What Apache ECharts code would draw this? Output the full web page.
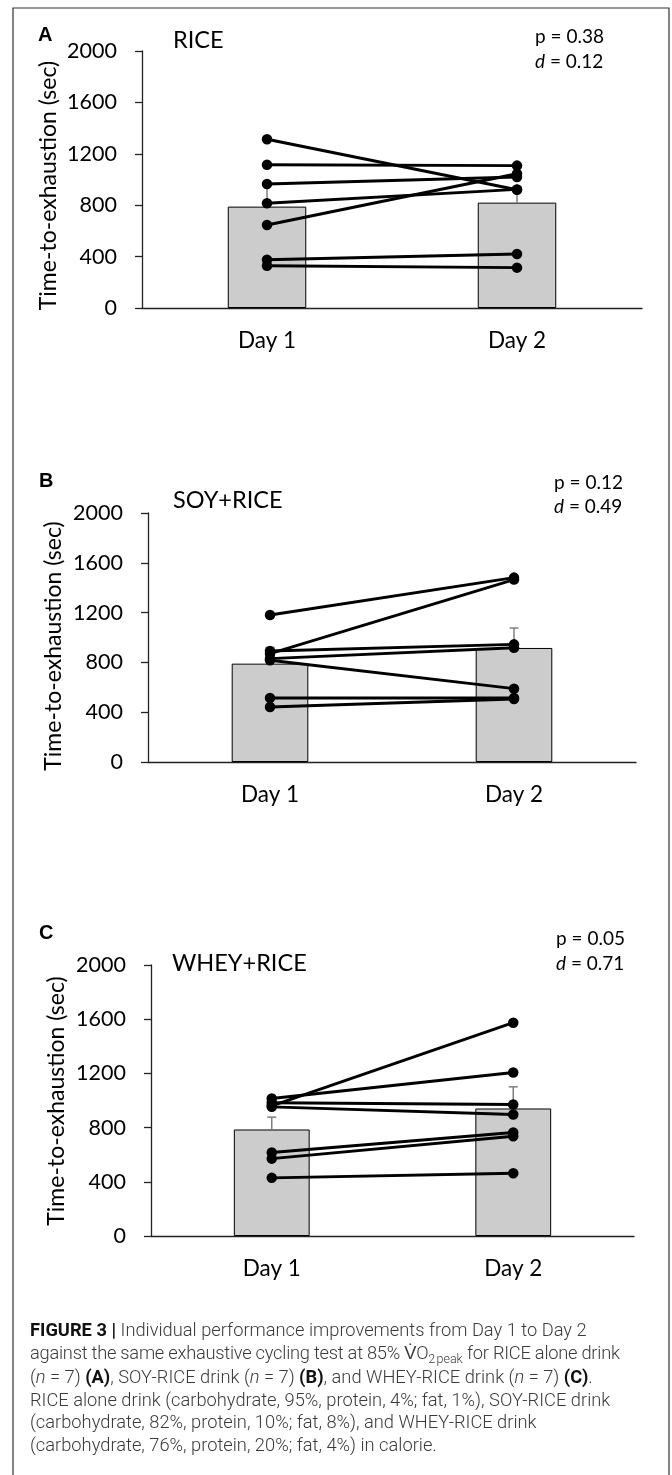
<!DOCTYPE html>
<html>
<head>
<meta charset="utf-8">
<script src="https://cdn.jsdelivr.net/npm/echarts@6/dist/echarts.min.js"></script>
<style>
  html, body { margin: 0; padding: 0; background: #fff; }
  #chart { position: absolute; left: 0; top: 0; width: 672px; height: 1475px; }
  #caption {
    position: absolute; left: 30px; top: 1319px;
    font-family: Roboto, "Liberation Sans", sans-serif; font-size: 18.3px; line-height: 22.5px;
    font-weight: 300; color: #3a3a3a; white-space: nowrap;
  }
  #caption b { color: #111; font-weight: 700; }
  #caption .l2 { letter-spacing: -0.25px; }
  #caption .sub { font-size: 12.5px; position: relative; top: 4px; letter-spacing: 0; }
</style>
</head>
<body>
<div id="chart"></div>
<div id="caption">
<b>FIGURE 3 |</b> Individual performance improvements from Day 1 to Day 2<br>
<span class="l2">against the same exhaustive cycling test at 85% V&#775;O<span class="sub">2&#8202;peak</span> for RICE alone drink</span><br>
(<i>n</i> = 7) <b>(A)</b>, SOY-RICE drink (<i>n</i> = 7) <b>(B)</b>, and WHEY-RICE drink (<i>n</i> = 7) <b>(C)</b>.<br>
RICE alone drink (carbohydrate, 95%, protein, 4%; fat, 1%), SOY-RICE drink<br>
(carbohydrate, 82%, protein, 10%; fat, 8%), and WHEY-RICE drink<br>
(carbohydrate, 76%, protein, 20%; fat, 4%) in calorie.
</div>
<script>
// ---------- data ----------
const categories = ['Day 1', 'Day 2'];
const yAxisName = 'Time-to-exhaustion (sec)';
const panelLetters = ['A', 'B', 'C'];
const panelTitles = ['RICE', 'SOY+RICE', 'WHEY+RICE'];
const pValues = ['0.38', '0.12', '0.05'];
const dValues = ['0.12', '0.49', '0.71'];

const riceDay1 = [1313, 1115, 965, 815, 646, 376, 329];
const riceDay2 = [920, 1108, 1020, 923, 1045, 420, 314];
const riceMean = [789, 820];
const riceErr = [165, 125];

const soyDay1 = [1181, 870, 892, 830, 817, 514, 442];
const soyDay2 = [1481, 1465, 945, 918, 589, 514, 506];
const soyMean = [790, 916];
const soyErr = [130, 160];

const wheyDay1 = [1015, 961, 983, 953, 616, 571, 429];
const wheyDay2 = [1207, 1574, 970, 897, 764, 736, 463];
const wheyMean = [786, 941];
const wheyErr = [91, 160];

// ---------- layout / style ----------
const FONT = 'Lato, "Open Sans", sans-serif';
const panels = [
  { d1: riceDay1, d2: riceDay2, mean: riceMean, err: riceErr },
  { d1: soyDay1, d2: soyDay2, mean: soyMean, err: soyErr },
  { d1: wheyDay1, d2: wheyDay2, mean: wheyMean, err: wheyErr }
];
const grids = [
  { left: 142, top: 51, width: 500, height: 257 },
  { left: 148, top: 513, width: 488, height: 249 },
  { left: 151, top: 965, width: 483, height: 271 }
];
const textPos = [
  { letter: [38, 35], title: [173, 40.5], p: [535, 36.5], d: [535, 61.5], yname: [49, 185.5] },
  { letter: [39, 481.5], title: [173, 500.5], p: [554, 482.7], d: [554, 506.7], yname: [54, 646] },
  { letter: [39, 933], title: [172, 963], p: [556, 939], d: [556, 963.7], yname: [57, 1101] }
];
const axisColor = '#222';

const xAxes = [], yAxes = [], series = [], graphics = [];

panels.forEach((pn, i) => {
  xAxes.push({
    type: 'category', gridIndex: i, data: categories,
    axisLine: { lineStyle: { color: axisColor, width: 1.3 } },
    axisTick: { show: false },
    axisLabel: { fontFamily: FONT, fontSize: 22.5, color: '#000', margin: 21 }
  });
  yAxes.push({
    type: 'value', gridIndex: i, min: 0, max: 2000, interval: 400,
    axisLine: { show: true, lineStyle: { color: axisColor, width: 1.3 } },
    axisTick: { show: true, length: 7, lineStyle: { color: axisColor, width: 1.3 } },
    splitLine: { show: false },
    axisLabel: { fontFamily: FONT, fontSize: 21.5, color: '#000', margin: 25, formatter: v => String(v) }
  });
  series.push({
    type: 'bar', xAxisIndex: i, yAxisIndex: i, data: pn.mean, barWidth: '31.4%',
    itemStyle: { color: '#cccccc', borderColor: '#000', borderWidth: 1 }, z: 2, silent: true
  });
  series.push({
    type: 'custom', xAxisIndex: i, yAxisIndex: i, z: 3, silent: true,
    encode: { x: 0, y: [1, 2] },
    data: pn.mean.map((m, j) => [j, m, m + pn.err[j]]),
    renderItem: (params, api) => {
      const b = api.coord([api.value(0), api.value(1)]);
      const t = api.coord([api.value(0), api.value(2)]);
      const st = { stroke: '#7f7f7f', lineWidth: 1.5 };
      return { type: 'group', children: [
        { type: 'line', shape: { x1: b[0], y1: b[1], x2: t[0], y2: t[1] }, style: st },
        { type: 'line', shape: { x1: t[0] - 4.5, y1: t[1], x2: t[0] + 4.5, y2: t[1] }, style: st }
      ] };
    }
  });
  pn.d1.forEach((v, k) => {
    series.push({
      type: 'line', xAxisIndex: i, yAxisIndex: i, data: [v, pn.d2[k]],
      symbol: 'circle', symbolSize: 10.5, showSymbol: true,
      itemStyle: { color: '#000' }, lineStyle: { color: '#000', width: 2.9 }, z: 5, silent: true
    });
  });

  const tp = textPos[i];
  graphics.push({ type: 'text', x: tp.letter[0], y: tp.letter[1],
    style: { text: panelLetters[i], font: 'bold 20px "Liberation Sans", Arial, sans-serif', fill: '#000', verticalAlign: 'middle' } });
  graphics.push({ type: 'text', x: tp.title[0], y: tp.title[1],
    style: { text: panelTitles[i], fontFamily: FONT, fontSize: 23.5, fill: '#000', verticalAlign: 'middle' } });
  graphics.push({ type: 'text', x: tp.p[0], y: tp.p[1],
    style: { text: 'p = ' + pValues[i], fontFamily: FONT, fontSize: 19, fill: '#000', verticalAlign: 'middle' } });
  graphics.push({ type: 'text', x: tp.d[0], y: tp.d[1],
    style: { text: '{i|d} = ' + dValues[i], fontFamily: FONT, fontSize: 19, fill: '#000', verticalAlign: 'middle',
      rich: { i: { fontFamily: FONT, fontSize: 19, fontStyle: 'italic', fill: '#000' } } } });
  graphics.push({ type: 'text', x: tp.yname[0], y: tp.yname[1], rotation: Math.PI / 2,
    style: { text: yAxisName, fontFamily: FONT, fontSize: 23, fill: '#000', align: 'center', verticalAlign: 'middle' } });
});

graphics.push({ type: 'rect', z: -1, shape: { x: 13, y: 8, width: 656, height: 1480 },
  style: { fill: 'none', stroke: '#333', lineWidth: 1.2 } });

const chart = echarts.init(document.getElementById('chart'), null, { renderer: 'canvas' });
chart.setOption({
  animation: false,
  backgroundColor: '#fff',
  grid: grids,
  xAxis: xAxes,
  yAxis: yAxes,
  series: series,
  graphic: graphics
});
</script>
</body>
</html>
